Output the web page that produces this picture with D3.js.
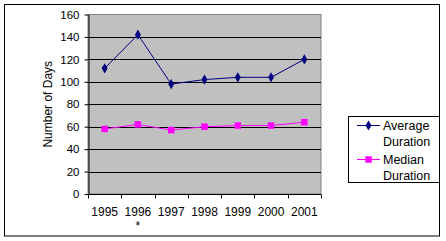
<!DOCTYPE html>
<html>
<head>
<meta charset="utf-8">
<script src="https://cdn.jsdelivr.net/npm/d3@7"></script>
<style>
  body { margin: 0; background: #fff; }
  text { font-family: "Liberation Sans", Arial, sans-serif; fill: #000; }
</style>
</head>
<body>
<div id="chart"></div>
<script>
// chart data
const years = ['1995', '1996', '1997', '1998', '1999', '2000', '2001']
const yearNotes = ['', '*', '', '', '', '', '']
const averageDuration = [112, 142, 98, 102, 104, 104, 120]
const medianDuration = [58, 62, 57, 60, 61, 61, 64]
const yTicks = [0, 20, 40, 60, 80, 100, 120, 140, 160]
const seriesNames = [['Average', 'Duration'], ['Median', 'Duration']]

const plot = { left: 88, top: 14.5, right: 321, bottom: 194 }

const svg = d3.select('#chart').append('svg')
    .attr('width', 446)
    .attr('height', 241)

// outer frame
svg.append('rect')
    .attr('x', 4.5).attr('y', 4.5)
    .attr('width', 435).attr('height', 231.5)
    .attr('fill', '#fff')
    .attr('stroke', '#000')

const x = d3.scaleBand()
    .domain(years)
    .range([plot.left, plot.right])

const y = d3.scaleLinear()
    .domain([0, 160])
    .range([plot.bottom, plot.top])

// plot background
svg.append('rect')
    .attr('x', plot.left).attr('y', plot.top)
    .attr('width', plot.right - plot.left)
    .attr('height', plot.bottom - plot.top)
    .attr('fill', '#c0c0c0')
    .attr('stroke', '#808080')

// grid
svg.append('g')
    .selectAll('line')
    .data(yTicks.filter(d => d > 0 && d < 160))
    .enter()
    .append('line')
    .attr('x1', plot.left).attr('x2', plot.right)
    .attr('y1', d => Math.round(y(d)) + 0.5)
    .attr('y2', d => Math.round(y(d)) + 0.5)
    .attr('stroke', '#000')

// y axis
const yAxis = svg.append('g')
    .attr('transform', `translate(${plot.left + 0.5},0)`)
    .call(d3.axisLeft(y).tickValues(yTicks).tickSize(4).tickPadding(5).tickSizeOuter(0))
yAxis.select('.domain').attr('stroke', '#000')
yAxis.selectAll('.tick line').attr('stroke', '#000')
yAxis.selectAll('.tick text')
    .attr('font-size', 11.5)
    .attr('font-family', '"Liberation Sans", Arial, sans-serif')

// x axis with ticks between categories
const xAxisGroup = svg.append('g')
    .attr('transform', `translate(0,${plot.bottom + 0.5})`)
xAxisGroup.append('line')
    .attr('x1', plot.left).attr('x2', plot.right)
    .attr('stroke', '#000')
xAxisGroup.selectAll('.sep')
    .data(years.concat(['end']))
    .enter()
    .append('line')
    .attr('class', 'sep')
    .attr('x1', (d, i) => Math.round(plot.left + i * x.bandwidth()) + 0.5)
    .attr('x2', (d, i) => Math.round(plot.left + i * x.bandwidth()) + 0.5)
    .attr('y1', 0).attr('y2', 4)
    .attr('stroke', '#000')
xAxisGroup.selectAll('.lbl')
    .data(years)
    .enter()
    .append('text')
    .attr('class', 'lbl')
    .attr('x', d => x(d) + x.bandwidth() / 2)
    .attr('y', 21.5)
    .attr('text-anchor', 'middle')
    .attr('font-size', 12)
    .text(d => d)
xAxisGroup.selectAll('.note')
    .data(years)
    .enter()
    .append('text')
    .attr('class', 'note')
    .attr('x', d => x(d) + x.bandwidth() / 2)
    .attr('y', 35)
    .attr('text-anchor', 'middle')
    .attr('font-size', 12)
    .text((d, i) => yearNotes[i])

// y axis title
svg.append('text')
    .attr('transform', `translate(52,${(plot.top + plot.bottom) / 2}) rotate(-90)`)
    .attr('text-anchor', 'middle')
    .attr('font-size', 12)
    .text('Number of Days')

const line = d3.line()
    .x((d, i) => x(years[i]) + x.bandwidth() / 2)
    .y(d => y(d))

const diamond = d3.symbol().type(d3.symbolDiamond).size(30)
const square = d3.symbol().type(d3.symbolSquare).size(42)

const series = [
  { values: averageDuration, color: '#000080', symbol: diamond },
  { values: medianDuration, color: '#ff00ff', symbol: square }
]

series.forEach(s => {
  svg.append('path')
      .attr('d', line(s.values))
      .attr('fill', 'none')
      .attr('stroke', s.color)
      .attr('stroke-width', 1)
  svg.append('g')
      .selectAll('path')
      .data(s.values)
      .enter()
      .append('path')
      .attr('d', s.symbol)
      .attr('transform', (d, i) => `translate(${x(years[i]) + x.bandwidth() / 2},${y(d)})`)
      .attr('fill', s.color)
})

// legend
const legend = svg.append('g')
legend.append('rect')
    .attr('x', 348.5).attr('y', 116.5)
    .attr('width', 91).attr('height', 66)
    .attr('fill', '#fff')
    .attr('stroke', '#000')

series.forEach((s, i) => {
  const cy = 125 + i * 34
  legend.append('line')
      .attr('x1', 357).attr('x2', 380)
      .attr('y1', cy + 0.5).attr('y2', cy + 0.5)
      .attr('stroke', s.color)
  legend.append('path')
      .attr('d', s.symbol)
      .attr('transform', `translate(368.5,${cy + 0.5})`)
      .attr('fill', s.color)
  seriesNames[i].forEach((t, j) => {
    legend.append('text')
        .attr('x', 383)
        .attr('y', cy + 4.5 + j * 16)
        .attr('font-size', 12.5)
        .text(t)
  })
})
</script>
</body>
</html>
